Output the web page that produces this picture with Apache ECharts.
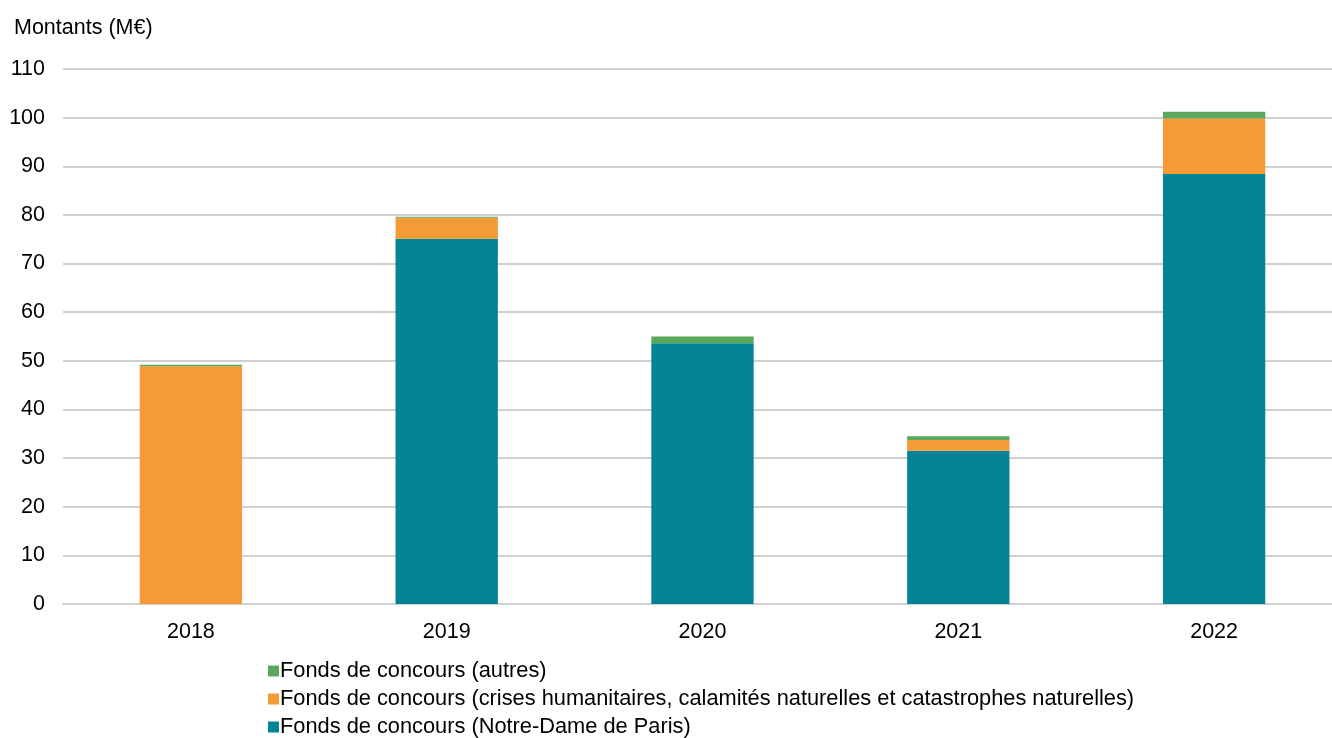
<!DOCTYPE html>
<html><head><meta charset="utf-8">
<script src="https://cdn.jsdelivr.net/npm/echarts@6/dist/echarts.min.js"></script>
<style>html,body{margin:0;padding:0;background:#fff;overflow:hidden;width:1332px;height:738px}#c{width:1342px;height:800px}</style>
</head><body><div id="c"></div>
<script>
const categories = ['2018','2019','2020','2021','2022'];
const notreDame = [0, 75.1, 53.6, 31.5, 88.4];
const crises = [48.9, 4.3, 0, 2.2, 11.4];
const autres = [0.3, 0.2, 1.4, 0.8, 1.4];
const yTicks = [0,10,20,30,40,50,60,70,80,90,100,110];
const names = ['Fonds de concours (Notre-Dame de Paris)',
  'Fonds de concours (crises humanitaires, calamités naturelles et catastrophes naturelles)',
  'Fonds de concours (autres)'];
const colors = ['#038396','#F49B36','#5AA85C'];
const font = 'Liberation Sans, Arial, sans-serif';
const fs = 21.5;
const chart = echarts.init(document.getElementById('c'));
const mk = (i, data) => ({name: names[i], type:'bar', stack:'s', data, barWidth:'40%',
  itemStyle:{color:colors[i]}, emphasis:{disabled:true}});
chart.setOption({
  animation:false,
  textStyle:{fontFamily:font},
  title:{text:'Montants (M€)', left:9, top:12, textStyle:{fontFamily:font,fontSize:fs,fontWeight:'normal',color:'#000'}},
  legend:{orient:'vertical', left:263, top:655, itemGap:6, itemWidth:11, itemHeight:11,
    icon:'rect', data:[names[2],names[1],names[0]],
    textStyle:{fontFamily:font,fontSize:21.8,lineHeight:22,color:'#000',padding:[0,0,0,-4]}},
  grid:{left:63, top:69, right:0, bottom:196},
  xAxis:{type:'category', data:categories,
    axisLine:{lineStyle:{color:'#d0d0d0',width:2}}, axisTick:{show:false},
    axisLabel:{fontFamily:font,fontSize:fs,color:'#000',margin:17}},
  yAxis:{type:'value', min:yTicks[0], max:yTicks[yTicks.length-1], interval:10,
    axisLine:{show:false}, axisTick:{show:false},
    splitLine:{lineStyle:{color:'#d0d0d0',width:2}},
    axisLabel:{fontFamily:font,fontSize:fs,color:'#000',margin:18}},
  series:[mk(0,notreDame), mk(1,crises), mk(2,autres)]
});
</script></body></html>
